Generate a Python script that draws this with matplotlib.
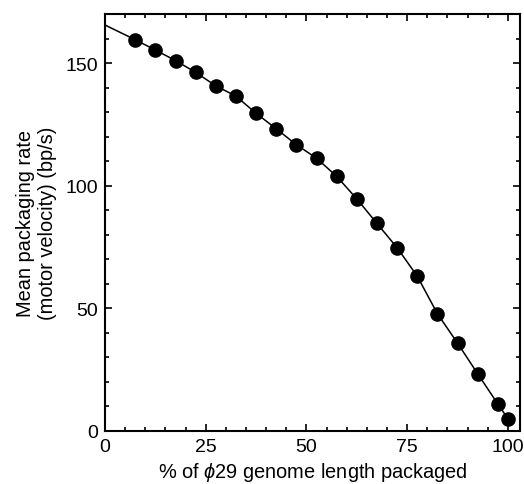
import matplotlib
matplotlib.use("Agg")
import matplotlib.pyplot as plt
from matplotlib.ticker import MultipleLocator

plt.rcParams['font.family'] = ['Liberation Sans', 'DejaVu Sans']
plt.rcParams['mathtext.fontset'] = 'custom'
plt.rcParams['mathtext.it'] = 'Liberation Sans:italic'

# % of genome packaged vs mean packaging rate (bp/s)
pct_packaged = [7.5, 12.5, 17.5, 22.5, 27.5, 32.5, 37.5, 42.5, 47.5, 52.5,
                57.5, 62.5, 67.5, 72.5, 77.5, 82.5, 87.5, 92.5, 97.5, 100]
rate = [159.5, 155.3, 151.0, 146.2, 140.7, 136.5, 129.5, 123.2, 116.7, 111.2,
        103.8, 94.6, 84.6, 74.7, 63.1, 47.8, 35.8, 23.3, 11.0, 5.0]

# fitted curve starts at the y-axis
fit_x = [0] + pct_packaged
fit_y = [165.5] + rate

fig = plt.figure(figsize=(5.24, 4.85), dpi=100)
ax = fig.add_axes([0.2004, 0.1093, 0.792, 0.8598])

ax.plot(fit_x, fit_y, color='black', linewidth=1.1, zorder=2)
ax.plot(pct_packaged, rate, 'o', color='black', markersize=9.5, zorder=3)

ax.set_xlim(0, 103)
ax.set_ylim(0, 170)
ax.xaxis.set_major_locator(MultipleLocator(25))
ax.xaxis.set_minor_locator(MultipleLocator(5))
ax.yaxis.set_major_locator(MultipleLocator(50))
ax.yaxis.set_minor_locator(MultipleLocator(10))

ax.tick_params(which='both', direction='in', top=True, right=True,
               width=1.2, labelsize=14)
ax.tick_params(which='major', length=5, pad=5)
ax.tick_params(which='minor', length=3)
for sp in ax.spines.values():
    sp.set_linewidth(1.5)

ax.set_xlabel(r'% of $\mathit{\phi}$29 genome length packaged', fontsize=14.4, labelpad=4)
ax.set_ylabel('Mean packaging rate\n(motor velocity) (bp/s)', fontsize=14.4, labelpad=6)

fig.savefig('out.png', dpi=100, facecolor='white')
